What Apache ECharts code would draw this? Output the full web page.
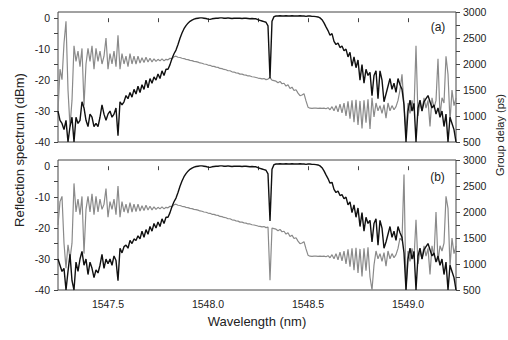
<!DOCTYPE html>
<html>
<head>
<meta charset="utf-8">
<script src="https://cdn.jsdelivr.net/npm/echarts@6/dist/echarts.min.js"></script>
<style>
  html, body { margin: 0; padding: 0; background: #fff; }
  #chart { width: 508px; height: 340px; }
</style>
</head>
<body>
<div id="chart"></div>
<script>
// sample wavelengths (nm), 0.01 nm apart
const wavelength = [
  1547.25,1547.26,1547.27,1547.28,1547.29,1547.30,1547.31,1547.32,1547.33,1547.34,
  1547.35,1547.36,1547.37,1547.38,1547.39,1547.40,1547.41,1547.42,1547.43,1547.44,
  1547.45,1547.46,1547.47,1547.48,1547.49,1547.50,1547.51,1547.52,1547.53,1547.54,
  1547.55,1547.56,1547.57,1547.58,1547.59,1547.60,1547.61,1547.62,1547.63,1547.64,
  1547.65,1547.66,1547.67,1547.68,1547.69,1547.70,1547.71,1547.72,1547.73,1547.74,
  1547.75,1547.76,1547.77,1547.78,1547.79,1547.80,1547.81,1547.82,1547.83,1547.84,
  1547.85,1547.86,1547.87,1547.88,1547.89,1547.90,1547.91,1547.92,1547.93,1547.94,
  1547.95,1547.96,1547.97,1547.98,1547.99,1548.00,1548.01,1548.02,1548.03,1548.04,
  1548.05,1548.06,1548.07,1548.08,1548.09,1548.10,1548.11,1548.12,1548.13,1548.14,
  1548.15,1548.16,1548.17,1548.18,1548.19,1548.20,1548.21,1548.22,1548.23,1548.24,
  1548.25,1548.26,1548.27,1548.28,1548.29,1548.30,1548.31,1548.32,1548.33,1548.34,
  1548.35,1548.36,1548.37,1548.38,1548.39,1548.40,1548.41,1548.42,1548.43,1548.44,
  1548.45,1548.46,1548.47,1548.48,1548.49,1548.50,1548.51,1548.52,1548.53,1548.54,
  1548.55,1548.56,1548.57,1548.58,1548.59,1548.60,1548.61,1548.62,1548.63,1548.64,
  1548.65,1548.66,1548.67,1548.68,1548.69,1548.70,1548.71,1548.72,1548.73,1548.74,
  1548.75,1548.76,1548.77,1548.78,1548.79,1548.80,1548.81,1548.82,1548.83,1548.84,
  1548.85,1548.86,1548.87,1548.88,1548.89,1548.90,1548.91,1548.92,1548.93,1548.94,
  1548.95,1548.96,1548.97,1548.98,1548.99,1549.00,1549.01,1549.02,1549.03,1549.04,
  1549.05,1549.06,1549.07,1549.08,1549.09,1549.10,1549.11,1549.12,1549.13,1549.14,
  1549.15,1549.16,1549.17,1549.18,1549.19,1549.20,1549.21,1549.22,1549.23,1549.24
];

// panel (a): reflection (dBm) and group delay (ps)
const reflA = [
  -30,-33,-34,-36,-33,-40,-35,-32,-40,-32,
  -34,-33,-27,-29,-33,-35,-31,-32,-35,-34,
  -35,-32,-28,-31,-33,-31,-30,-32,-31,-29,
  -38,-27,-28,-27,-25,-26,-24,-25.5,-23,-24.5,
  -22,-24,-21.5,-23,-20,-22.5,-19.5,-21,-19,-20,
  -18,-19.5,-17,-18.5,-16.5,-16.5,-15,-13,-11.5,-10.3,
  -8.5,-6.5,-4.8,-3.4,-2.4,-1.6,-1,-0.6,-0.3,-0.1,
  0,0.1,0.1,0,-0.1,-0.3,-0.4,-0.2,-0.1,0,
  0,0.1,0.1,0,0,0.1,0,-0.1,0,0,
  0,0,-0.1,0,0,-0.1,-0.2,-0.1,-0.2,-0.2,
  -0.5,-0.7,-0.9,-1.1,-1.3,-2.5,-19.4,-1,0.5,0.7,
  0.7,0.8,0.7,0.7,0.8,0.7,0.7,0.8,0.7,0.7,
  0.7,0.8,0.7,0.7,0.6,0.7,0.7,0.6,0.6,0.5,
  0.4,0.1,-0.5,-1.5,-2.8,-4,-5.5,-5,-7.5,-8.5,
  -8,-9.5,-9,-10.5,-10,-12.5,-11,-15.5,-12.5,-16,
  -13.5,-20,-15,-21,-16.5,-18.5,-17.5,-25,-18.5,-17,
  -26,-17,-20,-27,-24.5,-22,-19.5,-23,-21,-24,
  -19.5,-21.5,-23,-28,-40,-30,-26.5,-30,-27.5,-40,
  -29,-26.5,-30,-27,-26,-25,-27,-29,-28,-31,
  -29,-32,-30,-35,-31,-40,-32,-34,-36,-40
];
const delayA = [
  1100,1900,1700,2400,2820,1500,800,1300,2350,2050,
  2250,1950,2300,1200,2000,2300,2050,2350,1900,2300,
  2050,2250,2000,2150,2500,1900,2200,2000,2250,1950,
  2550,1900,2200,2000,2150,1950,2200,2000,2150,2000,
  2150,2020,2120,2030,2130,2040,2110,2040,2100,2050,
  2090,2060,2100,2060,2090,2080,2110,2100,2140,2150,
  2130,2125,2110,2105,2090,2085,2070,2065,2050,2045,
  2035,2020,2015,2000,1995,1980,1975,1955,1955,1940,
  1935,1915,1910,1895,1890,1870,1870,1850,1845,1830,
  1825,1805,1805,1790,1785,1770,1770,1755,1750,1740,
  1730,1725,1715,1720,1700,1710,1740,1690,1680,1670,
  1640,1665,1620,1630,1575,1600,1530,1555,1490,1505,
  1440,1390,1405,1430,1290,1170,1150,1145,1150,1150,
  1148,1150,1145,1150,1140,1160,1120,1180,1100,1200,
  1080,1230,1060,1250,1000,1280,950,1300,880,1310,
  830,1290,760,1300,870,1320,750,1350,980,1250,
  1100,1200,1050,1220,960,1250,1100,1200,1120,1180,
  1300,1500,1800,1200,700,1250,1050,1300,1100,2350,
  1000,1250,1100,1350,1150,1300,800,1350,1150,1300,
  2100,1000,1350,1250,2150,1800,900,1500,1200,1350
];

// panel (b)
const reflB = [
  -30,-32,-34,-33,-40,-34,-28.5,-37,-40,-31,
  -34,-30,-27.5,-32,-30,-35,-31,-33,-36,-33.5,
  -34.5,-32,-28.5,-33,-30,-31.5,-30,-32,-29,-30.5,
  -37,-26.5,-28,-26,-25.5,-26.5,-24,-25,-23.5,-24,
  -22.5,-23.5,-21,-23,-20.5,-22,-19.5,-21,-18.5,-20,
  -18,-19.5,-17,-18.5,-16.5,-16.5,-15,-13,-11.5,-10.3,
  -8.5,-6.5,-4.8,-3.4,-2.4,-1.6,-1,-0.6,-0.3,-0.1,
  0,0.1,0.1,0,-0.1,-0.3,-0.4,-0.2,-0.1,0,
  0,0.1,0.1,0,0,0.1,0,-0.1,0,0,
  0,0,-0.1,0,0,-0.1,-0.2,-0.1,-0.2,-0.2,
  -0.5,-0.7,-0.9,-1.1,-1.3,-2.5,-17.7,-1,0.5,0.7,
  0.7,0.8,0.7,0.7,0.8,0.7,0.7,0.8,0.7,0.7,
  0.7,0.8,0.7,0.7,0.6,0.7,0.7,0.6,0.6,0.5,
  0.4,0.1,-0.5,-1.5,-2.8,-4,-5.5,-5.2,-7.5,-8.5,
  -8,-9.5,-9.2,-10.5,-10,-12.5,-11.5,-15,-12.5,-16.5,
  -13.5,-19.5,-15,-21,-16.5,-18.5,-17.5,-24.5,-18.5,-17,
  -25.5,-17.5,-20,-26.5,-24.5,-22,-19.5,-23,-21,-24,
  -19.5,-21.5,-23,-28,-40,-30,-26.5,-30,-27.5,-40,
  -29,-26.5,-30,-27,-26,-25,-27,-29,-28,-31,
  -29,-32,-30,-35,-31,-40,-32,-34,-36,-40
];
const delayB = [
  1750,2200,2300,1400,920,1370,1100,1400,2550,2000,
  2250,1950,2300,1200,2050,2300,2000,2350,1950,2300,
  2000,2250,2050,2150,2450,1900,2200,2050,2250,1950,
  2500,1900,2200,2000,2150,1980,2180,2000,2150,2010,
  2150,2020,2120,2030,2130,2040,2110,2040,2100,2050,
  2090,2060,2100,2060,2090,2080,2110,2100,2140,2150,
  2130,2125,2110,2105,2090,2085,2070,2065,2050,2045,
  2035,2020,2015,2000,1995,1980,1975,1955,1955,1940,
  1935,1915,1910,1895,1890,1870,1870,1850,1845,1830,
  1825,1805,1805,1790,1785,1770,1770,1755,1750,1740,
  1730,1725,1715,1720,1700,1710,690,1690,1680,1670,
  1640,1665,1620,1630,1575,1600,1530,1555,1490,1505,
  1440,1390,1405,1430,1290,1170,1150,1145,1150,1150,
  1148,1150,1145,1150,1140,1160,1120,1180,1100,1200,
  1080,1230,1060,1250,1000,1280,950,1300,880,1310,
  830,1290,760,1300,870,1320,750,500,980,1250,
  1100,1200,1050,1220,960,1250,1100,1200,1120,1180,
  1300,1500,1450,2720,520,1250,1050,1300,1100,1850,
  1000,1250,1100,1350,1150,1300,800,1350,1150,2000,
  1050,1350,1250,1400,2300,2070,950,1500,1200,1350
];

// tick positions and labels
const wlTicks = [1547.5, 1547.75, 1548.0, 1548.25, 1548.5, 1548.75, 1549.0];
const wlLabels = [1547.5, 1548.0, 1548.5, 1549.0];
const reflTicks = [-40, -35, -30, -25, -20, -15, -10, -5, 0];
const reflLabels = [-40, -30, -20, -10, 0];
const delayTicks = [500, 750, 1000, 1250, 1500, 1750, 2000, 2250, 2500, 2750, 3000];
const delayLabels = [500, 1000, 1500, 2000, 2500, 3000];

const font = '"Liberation Sans", Arial, sans-serif';
const textColor = '#222';
const frame = '#444';

const chart = echarts.init(document.getElementById('chart'), null, { renderer: 'svg' });

const pairs = (vals) => wavelength.map((w, i) => [w, vals[i]]);

function xAxisFor(grid, withLabels) {
  return {
    type: 'value',
    gridIndex: grid,
    min: 1547.25,
    max: 1549.24,
    axisLine: { show: false },
    splitLine: { show: false },
    axisTick: { show: true, length: 4, customValues: wlTicks, lineStyle: { color: frame } },
    axisLabel: {
      show: withLabels,
      customValues: wlLabels,
      margin: 8,
      formatter: (v) => v.toFixed(1),
      color: textColor,
      fontSize: 10.5,
      fontFamily: font,
    },
    name: withLabels ? 'Wavelength (nm)' : '',
    nameLocation: 'middle',
    nameGap: 25,
    nameTextStyle: { color: textColor, fontSize: 13, fontFamily: font },
  };
}

function leftAxisFor(grid) {
  return {
    type: 'value',
    gridIndex: grid,
    position: 'left',
    min: -40,
    max: 2,
    axisLine: { show: false },
    splitLine: { show: false },
    axisTick: { show: true, length: 4, customValues: reflTicks, lineStyle: { color: frame } },
    axisLabel: { customValues: reflLabels, margin: 8, color: textColor, fontSize: 10.5, fontFamily: font,
                 formatter: (v) => String(v) },
  };
}

function rightAxisFor(grid) {
  return {
    type: 'value',
    gridIndex: grid,
    position: 'right',
    min: 500,
    max: 3000,
    axisLine: { show: false },
    splitLine: { show: false },
    axisTick: { show: true, length: 4, customValues: delayTicks, lineStyle: { color: frame } },
    axisLabel: { customValues: delayLabels, margin: 7, color: textColor, fontSize: 10.5, fontFamily: font,
                 formatter: (v) => String(v) },
  };
}

function line(xi, yi, vals, color, width) {
  return {
    type: 'line',
    xAxisIndex: xi,
    yAxisIndex: yi,
    data: pairs(vals),
    showSymbol: false,
    symbol: 'none',
    lineStyle: { color: color, width: width },
    silent: true,
  };
}

const option = {
  animation: false,
  backgroundColor: '#fff',
  grid: [
    { left: 58, right: 52, top: 12, height: 130, show: true, borderColor: frame, borderWidth: 1 },
    { left: 58, right: 52, top: 160, height: 130, show: true, borderColor: frame, borderWidth: 1 },
  ],
  xAxis: [xAxisFor(0, false), xAxisFor(1, true)],
  yAxis: [leftAxisFor(0), rightAxisFor(0), leftAxisFor(1), rightAxisFor(1)],
  series: [
    line(0, 1, delayA, '#8a8a8a', 1.2),
    line(0, 0, reflA, '#111', 1.4),
    line(1, 3, delayB, '#8a8a8a', 1.2),
    line(1, 2, reflB, '#111', 1.4),
  ],
  graphic: [
    {
      type: 'text', x: 19, y: 150, rotation: Math.PI / 2,
      style: { text: 'Reflection spectrum (dBm)', fill: textColor, fontSize: 13, fontFamily: font,
               align: 'center', verticalAlign: 'middle', textAlign: 'center', textVerticalAlign: 'middle' },
    },
    {
      type: 'text', x: 500, y: 135, rotation: Math.PI / 2,
      style: { text: 'Group delay (ps)', fill: textColor, fontSize: 11, fontFamily: font,
               align: 'center', verticalAlign: 'middle', textAlign: 'center', textVerticalAlign: 'middle' },
    },
    {
      type: 'text', x: 438, y: 26.5,
      style: { text: '(a)', fill: textColor, fontSize: 12, fontFamily: font,
               align: 'center', verticalAlign: 'middle', textAlign: 'center', textVerticalAlign: 'middle' },
    },
    {
      type: 'text', x: 437.5, y: 176.5,
      style: { text: '(b)', fill: textColor, fontSize: 12, fontFamily: font,
               align: 'center', verticalAlign: 'middle', textAlign: 'center', textVerticalAlign: 'middle' },
    },
  ],
};

chart.setOption(option);
</script>
</body>
</html>
